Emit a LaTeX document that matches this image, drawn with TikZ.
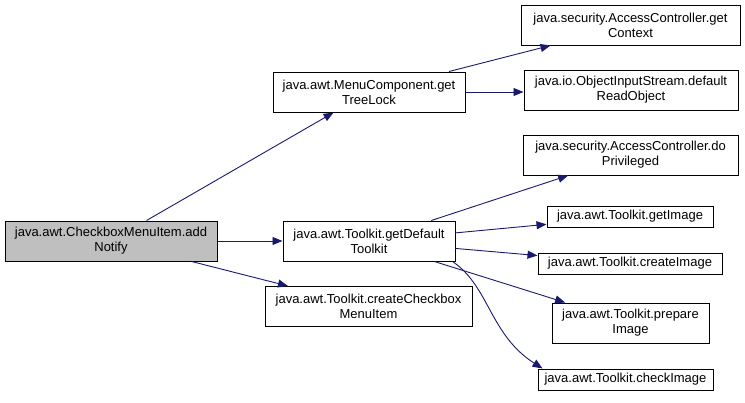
\documentclass[tikz,border=0pt]{standalone}
\usepackage{fontspec}
\setmainfont{Liberation Sans}
\usepackage{tikz}
\usepackage{xcolor}
\usetikzlibrary{arrows.meta,positioning,calc}
\definecolor{edgeblue}{RGB}{25,25,112}
\definecolor{grey75}{RGB}{191,191,191}
\newcommand{\fnfont}{\fontsize{13}{15}\selectfont}
\tikzset{
  fnbox/.style={draw=black,fill=white,font=\fnfont,align=center,inner sep=0pt,line width=1pt},
  mainbox/.style={fnbox,fill=grey75},
  call/.style={-{Triangle[length=10pt,width=8pt]},draw=edgeblue,line width=0.9pt}
}

\begin{document}
\begin{tikzpicture}[x=1pt,y=-1pt]
  \useasboundingbox (0,0) rectangle (745,402);

  \node[mainbox,minimum width=212,minimum height=40] (main) at (111,241) {java.awt.CheckboxMenuItem.add\\Notify};

  \node[fnbox,minimum width=192,minimum height=40] (menu) at (369,92) {java.awt.MenuComponent.get\\TreeLock};
  \node[fnbox,minimum width=172,minimum height=40] (toolkit) at (369,241) {java.awt.Toolkit.getDefault\\Toolkit};
  \node[fnbox,minimum width=207,minimum height=40] (ccmi) at (368.5,306.5) {java.awt.Toolkit.createCheckbox\\MenuItem};

  \node[fnbox,minimum width=219,minimum height=40] (ctx) at (630.5,25) {java.security.AccessController.get\\Context};
  \node[fnbox,minimum width=214,minimum height=40] (ois) at (631,90) {java.io.ObjectInputStream.default\\ReadObject};
  \node[fnbox,minimum width=215,minimum height=40] (priv) at (630.5,155) {java.security.AccessController.do\\Privileged};
  \node[fnbox,minimum width=166,minimum height=21] (getimg) at (630,216.5) {java.awt.Toolkit.getImage};
  \node[fnbox,minimum width=184,minimum height=21] (creimg) at (630,263.5) {java.awt.Toolkit.createImage};
  \node[fnbox,minimum width=157,minimum height=40] (prep) at (630.5,323) {java.awt.Toolkit.prepare\\Image};
  \node[fnbox,minimum width=175,minimum height=21] (check) at (625.5,379.5) {java.awt.Toolkit.checkImage};

  % calls from addNotify
  \draw[call] (main) -- (menu);
  \draw[call] (main) -- (toolkit);
  \draw[call] (main) -- (ccmi);

  % calls from getTreeLock
  \draw[call] (menu) -- (ctx);
  \draw[call] (menu.east) -- (ois.west |- menu.east);

  % calls from getDefaultToolkit
  \draw[call] (toolkit) -- (priv);
  \draw[call] (toolkit) -- (getimg);
  \draw[call] (toolkit) -- (creimg);
  \draw[call] (toolkit) -- (prep);
  \draw[call] ($(toolkit.south east)+(-3,0)$)
    .. controls +(37,25) and +(-53,-34) .. ($(check.north west)+(5,0)$);
\end{tikzpicture}
\end{document}
